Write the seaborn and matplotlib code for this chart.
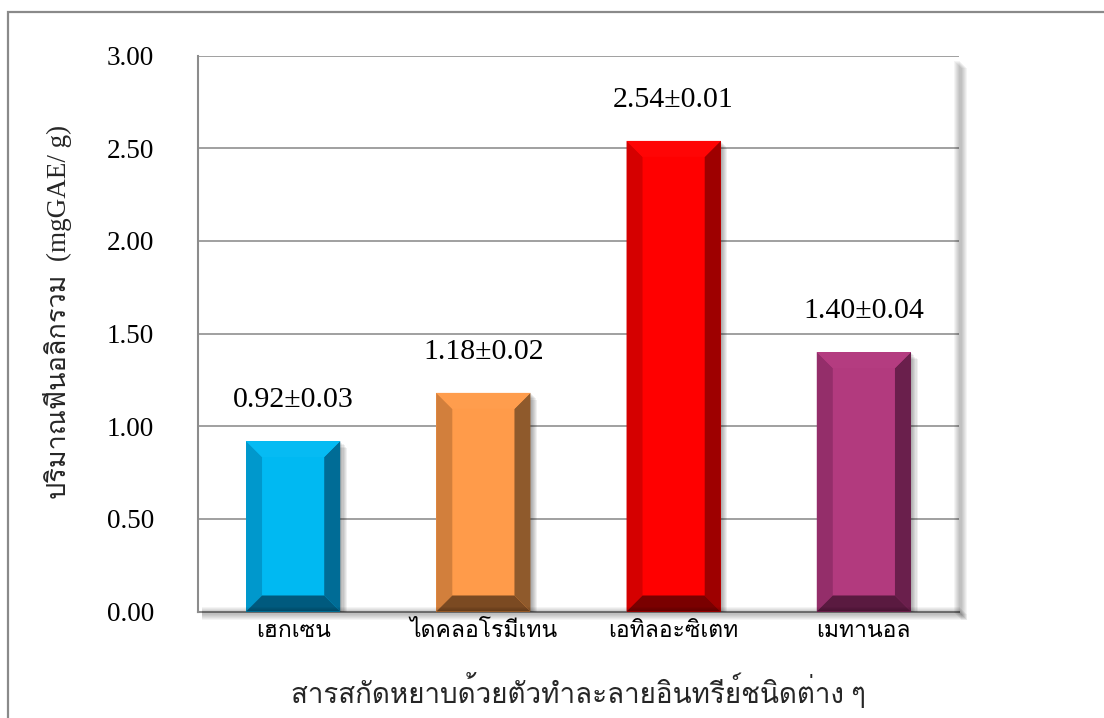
import numpy as np
import pandas as pd
import matplotlib
matplotlib.use("Agg")
import matplotlib.pyplot as plt
import matplotlib.patheffects as pe
from matplotlib.patches import Polygon, Rectangle
from matplotlib import font_manager
from matplotlib.ft2font import FT2Font
import seaborn as sns

# ---- data -------------------------------------------------------------
solvents = ["เฮกเซน", "ไดคลอโรมีเทน", "เอทิลอะซิเตท", "เมทานอล"]
phenolic = [0.92, 1.18, 2.54, 1.40]
phenolic_sd = [0.03, 0.02, 0.01, 0.04]
y_ticks = [0.0, 0.5, 1.0, 1.5, 2.0, 2.5, 3.0]
y_label = "ปริมาณฟีนอลิกรวม  (mgGAE/ g)"
x_label = "สารสกัดหยาบด้วยตัวทำละลายอินทรีย์ชนิดต่าง ๆ"

# face / left / right / bottom / top shades of each bevelled bar
face_colors = ["#00B9F2", "#FF9B4A", "#FF0000", "#B23A7E"]
left_colors = ["#0098CC", "#D27F3C", "#D50000", "#942E6A"]
right_colors = ["#006C96", "#8F5A2C", "#9E0000", "#6A1F4C"]
bottom_colors = ["#005A7E", "#7B4A22", "#7A0000", "#5A1A40"]
top_colors = ["#06BBF3", "#FF9D4D", "#FF0505", "#B43C80"]


def thai_families():
    """Installed families that carry Thai glyphs."""
    found = []
    for fe in font_manager.fontManager.ttflist:
        try:
            if 0x0E01 in FT2Font(fe.fname).get_charmap():
                if fe.name not in found:
                    found.append(fe.name)
        except Exception:
            pass
    return found


thai = thai_families()
# Latin digits/letters in a Times-like serif, Thai falls through to a Thai font
font_list = ["Liberation Serif"] + thai + ["DejaVu Serif", "DejaVu Sans"]

sns.set_theme(style="white")
plt.rcParams["font.family"] = font_list

W, H = 1104, 718
fig = plt.figure(figsize=(W / 100, H / 100), dpi=100)
fig.patch.set_facecolor("white")

# outer chart frame (runs past the right and bottom edges)
fig.add_artist(Rectangle((8 / W, -0.05), 1.2, (H - 12) / H + 0.05,
                         transform=fig.transFigure, fill=False,
                         edgecolor="#8a8a8a", lw=1.6))

left, right, top, bottom = 198, 959, 55.7, 611.5
ax = fig.add_axes([left / W, (H - bottom) / H, (right - left) / W, (bottom - top) / H])
ax.set_facecolor("white")

# soft drop shadow of the plot area
for k in range(1, 9):
    a = 0.045
    fig.add_artist(Rectangle(((right - 6 + k) / W, (H - bottom - k) / H),
                             6 / W, (bottom - top - 4) / H,
                             transform=fig.transFigure, color="black",
                             alpha=a, lw=0, zorder=0.5))
    fig.add_artist(Rectangle(((left + 4) / W, (H - bottom - k) / H),
                             (right - left - 4 + k) / W, 6 / H,
                             transform=fig.transFigure, color="black",
                             alpha=a, lw=0, zorder=0.5))

df = pd.DataFrame({"solvent": solvents, "value": phenolic})
sns.barplot(data=df, x="solvent", y="value", hue="solvent",
            palette=face_colors, width=0.495, legend=False, ax=ax,
            saturation=1, edgecolor="none", linewidth=0, zorder=3)

ax.set_xlim(-0.5, len(solvents) - 0.5)
ax.set_ylim(0, 3)
ax.set_yticks(y_ticks)
ax.set_yticklabels([f"{v:.2f}" for v in y_ticks])
ax.yaxis.grid(True, color="#a0a0a0", lw=1.4, zorder=0)
ax.xaxis.grid(False)
ax.set_axisbelow(True)

for s in ["top", "right"]:
    ax.spines[s].set_visible(False)
ax.spines["left"].set_color("#8c8c8c")
ax.spines["left"].set_linewidth(1.5)
ax.spines["bottom"].set_color("#8c8c8c")
ax.spines["bottom"].set_linewidth(1.5)

ax.tick_params(axis="y", direction="out", length=9.5, width=1.3,
               color="#8c8c8c", pad=22, labelsize=19.5, labelcolor="black")
ax.tick_params(axis="x", length=0, pad=7, labelsize=16.5, labelcolor="black")

ax.set_xlabel(x_label, fontsize=20, labelpad=0)
ax.xaxis.set_label_coords(0.5, -(691 - bottom) / (bottom - top), transform=ax.transAxes)
ax.xaxis.label.set_va("center")
ax.set_ylabel(y_label, fontsize=19.5)
ax.yaxis.set_label_coords(-(left - 58) / (right - left), (bottom - 312) / (bottom - top))
ax.yaxis.label.set_va("center")

# bevel sizes: 16 px in each direction, expressed in data units
bx = 16 / ((right - left) / len(solvents))
by = 16 / ((bottom - top) / 3.0)

shadow = [pe.SimplePatchShadow(offset=(k * 0.8, -k * 0.8), shadow_rgbFace="black",
                               alpha=0.06) for k in range(1, 7)] + [pe.Normal()]

for i, (bar, val, sd) in enumerate(zip(ax.patches, phenolic, phenolic_sd)):
    bar.set_path_effects(shadow)
    x0 = bar.get_x()
    x1 = x0 + bar.get_width()
    y0 = 0.0
    y1 = bar.get_height()
    pieces = [
        ([(x0, y0), (x0 + bx, y0 + by), (x0 + bx, y1 - by), (x0, y1)], left_colors[i]),
        ([(x1, y0), (x1 - bx, y0 + by), (x1 - bx, y1 - by), (x1, y1)], right_colors[i]),
        ([(x0, y1), (x0 + bx, y1 - by), (x1 - bx, y1 - by), (x1, y1)], top_colors[i]),
        ([(x0, y0), (x0 + bx, y0 + by), (x1 - bx, y0 + by), (x1, y0)], bottom_colors[i]),
    ]
    for pts, c in pieces:
        ax.add_patch(Polygon(pts, closed=True, facecolor=c, edgecolor="none", zorder=4))
    ax.text(x0 + bar.get_width() / 2, y1 + 0.22, f"{val:.2f}±{sd:.2f}",
            ha="center", va="center", fontsize=21.5, color="black", zorder=5)

fig.savefig("out.png", dpi=100, facecolor="white")
